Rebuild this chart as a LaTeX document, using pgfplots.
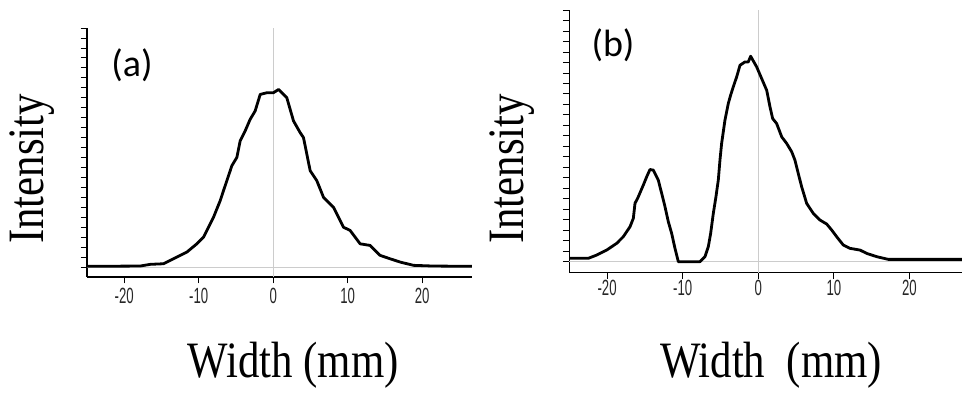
\documentclass[border=0pt]{standalone}
\usepackage{pgfplots}
\pgfplotsset{compat=1.18}
\usepackage{graphicx}
\usepackage{fontspec}
\setmainfont{Liberation Serif}
\setsansfont{Liberation Sans}
\newfontfamily\calibri{Carlito}
\pgfplotstableread{
x y
-25.0 0.07
-17.85 0.1
-16.5 0.27
-14.72 0.33
-13.38 0.83
-11.59 1.5
-10.25 2.33
-9.35 3.0
-8.68 4.0
-8.01 5.0
-7.11 6.67
-6.67 7.67
-5.77 9.67
-5.55 10.17
-4.88 11.0
-4.43 12.67
-3.76 13.67
-3.09 14.83
-2.42 15.67
-1.74 17.33
-0.85 17.5
0.04 17.5
0.72 17.83
1.83 17.0
2.73 14.67
3.62 13.5
4.07 13.0
4.52 11.33
4.97 9.67
5.86 8.67
6.76 7.0
8.1 6.0
9.44 4.0
10.34 3.67
11.68 2.33
13.02 2.17
14.36 1.17
15.7 0.83
17.05 0.5
18.84 0.17
21.52 0.1
26.67 0.07
}\dataA
\pgfplotstableread{
x y
-25.0 0.32
-22.49 0.32
-21.38 0.63
-20.05 1.11
-18.73 1.75
-17.86 2.38
-16.97 3.33
-16.53 4.13
-16.31 5.56
-15.87 6.19
-15.21 7.30
-14.76 8.10
-14.33 8.79
-13.89 8.73
-13.23 7.78
-12.78 6.51
-12.34 5.24
-11.90 3.81
-11.46 2.70
-11.02 1.27
-10.58 0
-7.71 0
-7.05 0.48
-6.61 1.43
-6.30 2.70
-5.95 4.60
-5.60 6.19
-5.29 7.78
-5.07 9.68
-4.85 11.27
-4.41 13.49
-3.97 15.08
-3.66 15.87
-3.31 16.67
-2.86 17.62
-2.42 18.73
-1.76 19.05
-1.32 19.05
-1.01 19.59
-0.21 18.57
0.45 17.46
1.11 16.35
1.55 14.76
1.90 13.65
2.43 13.17
3.10 11.90
3.76 11.27
4.42 10.48
4.85 9.68
5.29 8.41
5.74 7.14
6.40 5.56
7.28 4.60
8.16 3.97
9.05 3.59
9.71 3.02
10.37 2.38
11.24 1.59
12.13 1.27
13.45 1.11
14.34 0.79
15.66 0.48
17.2 0.22
26.95 0.22
}\dataB
\newcommand{\tl}[1]{\scalebox{0.6}[1]{\fontsize{22}{22}\selectfont #1}}
\pgfplotsset{
  panel/.style={
    scale only axis,
    axis x line=bottom, axis y line=left,
    axis line style={-, black, line width=1.2pt},
    tick style={black, line width=0.8pt},
    tick align=outside,
    major tick length=6.5pt,
    xtick={-20,-10,0,10,20},
    xticklabels={\tl{-20},\tl{-10},\tl{0},\tl{10},\tl{20}},
    ytick={0,...,24},
    yticklabels={},
    xticklabel style={font=\sffamily, text=black!85, inner sep=0pt, anchor=north},
    clip=false,
  }
}
\begin{document}
\begin{tikzpicture}[x=1pt,y=1pt]
\path[use as bounding box] (0,0) rectangle (962,393);
% panel (a)
\begin{axis}[panel, at={(87pt,116pt)}, anchor=south west,
  width=385pt, height=249pt,
  xmin=-25, xmax=26.7, ymin=-1, ymax=24,
  xticklabel style={yshift=-4pt}]
\draw[black!20, line width=0.9pt] (axis cs:-25,0) -- (axis cs:26.7,0);
\draw[black!20, line width=0.9pt] (axis cs:0,-1) -- (axis cs:0,24);
\addplot[black, line width=2.8pt, line join=round] table[x=x,y=y] {\dataA};
\end{axis}
% panel (b)
\begin{axis}[panel, at={(569.3pt,120.3pt)}, anchor=south west,
  width=392.7pt, height=262.7pt,
  xmin=-25, xmax=26.95, ymin=-1.05, ymax=24,
  xticklabel style={yshift=-1pt}]
\draw[black!20, line width=0.9pt] (axis cs:-25,0) -- (axis cs:26.95,0);
\draw[black!20, line width=0.9pt] (axis cs:0,-1.05) -- (axis cs:0,24);
\addplot[black, line width=2.8pt, line join=round] table[x=x,y=y] {\dataB};
\end{axis}
% labels
\node[anchor=base, inner sep=0] at (293,15) {\scalebox{0.84}[1]{\fontsize{51}{51}\selectfont Width (mm)}};
\node[anchor=base, inner sep=0] at (771,15) {\scalebox{0.84}[1]{\fontsize{51}{51}\selectfont Width\ \ (mm)}};
\node[anchor=base, rotate=90, inner sep=0] at (43,224) {\scalebox{0.84}[1]{\fontsize{51}{51}\selectfont Intensity}};
\node[anchor=base, rotate=90, inner sep=0] at (523,224) {\scalebox{0.84}[1]{\fontsize{51}{51}\selectfont Intensity}};
\node[inner sep=0] at (132,328) {\calibri\fontsize{38}{38}\selectfont (a)};
\node[inner sep=0] at (613,348) {\calibri\fontsize{38}{38}\selectfont (b)};
\end{tikzpicture}
\end{document}
